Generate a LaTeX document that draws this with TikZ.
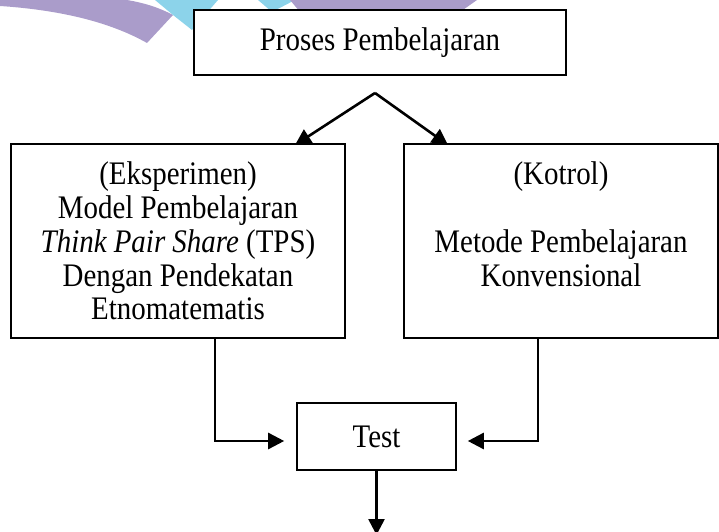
\documentclass[tikz,border=0pt]{standalone}
\usepackage{fontspec}
\setmainfont{Liberation Serif}[FakeStretch=0.88]
\usetikzlibrary{arrows.meta}
\definecolor{wmpurple}{RGB}{170,156,202}
\definecolor{wmblue}{RGB}{140,211,234}

\begin{document}
\begin{tikzpicture}[x=1bp,y=-1bp,line join=miter,
  box/.style={draw,line width=1.6bp,fill=white,inner sep=0pt,align=center,
    font=\fontsize{33}{34}\selectfont},
  conn/.style={line width=2.6bp,-{Triangle[length=16bp,width=16bp]}}]
\useasboundingbox (0,0) rectangle (719,532);

%% ---------------- faint logo showing behind the top box ----------------
\fill[wmpurple] (0,0) -- (0,6) .. controls (60,10) and (110,22) .. (147,43)
   -- (173,15) .. controls (160,8) and (145,3) .. (127,0) -- cycle;
\fill[wmblue] (155,0) -- (173,15) -- (192,30) -- (218,0) -- cycle;
\fill[wmblue] (258,0) -- (272,12) -- (295,0) -- cycle;
\fill[wmpurple] (290,0) -- (300,12) -- (460,12) -- (477,0) -- cycle;

%% ---------------- the boxes ----------------
\node[box,minimum width=372bp,minimum height=65bp] (proses) at (380,42.5)
  {Proses Pembelajaran};
\node[box,minimum width=334bp,minimum height=194bp] (eks) at (178,241)
  {(Eksperimen)\\Model Pembelajaran\\\textit{Think Pair Share} (TPS)\\
   Dengan Pendekatan\\Etnomatematis};
\node[box,minimum width=314bp,minimum height=194bp] (kon) at (561,241)
  {(Kotrol)\\\mbox{}\\Metode Pembelajaran\\Konvensional\\\mbox{}};
\node[box,minimum width=159bp,minimum height=67bp] (test) at (376.5,436.5)
  {Test};

%% ---------------- the split into both groups ----------------
\coordinate (fork)  at (375,93);
\coordinate (eksIn) at (295,145);
\coordinate (konIn) at (448,145);
\draw[conn] (fork) -- (eksIn);
\draw[conn] (fork) -- (konIn);

%% ---------------- both groups go to the test ----------------
\coordinate (eksOut)  at (146,338);
\coordinate (eksBend) at (215,338);
\coordinate (konOut)  at (607,338);
\coordinate (konBend) at (538,338);
\draw[conn,shorten >=12bp] (eksOut) -- (eksBend) |- ([yshift=-4.5bp]test.west);
\draw[conn,shorten >=11bp] (konOut) -- (konBend) |- ([yshift=-4.5bp]test.east);

%% ---------------- out of the test ----------------
\coordinate (outEnd) at (376.5,535);
\draw[conn] (test.south) -- (outEnd);

\end{tikzpicture}
\end{document}
